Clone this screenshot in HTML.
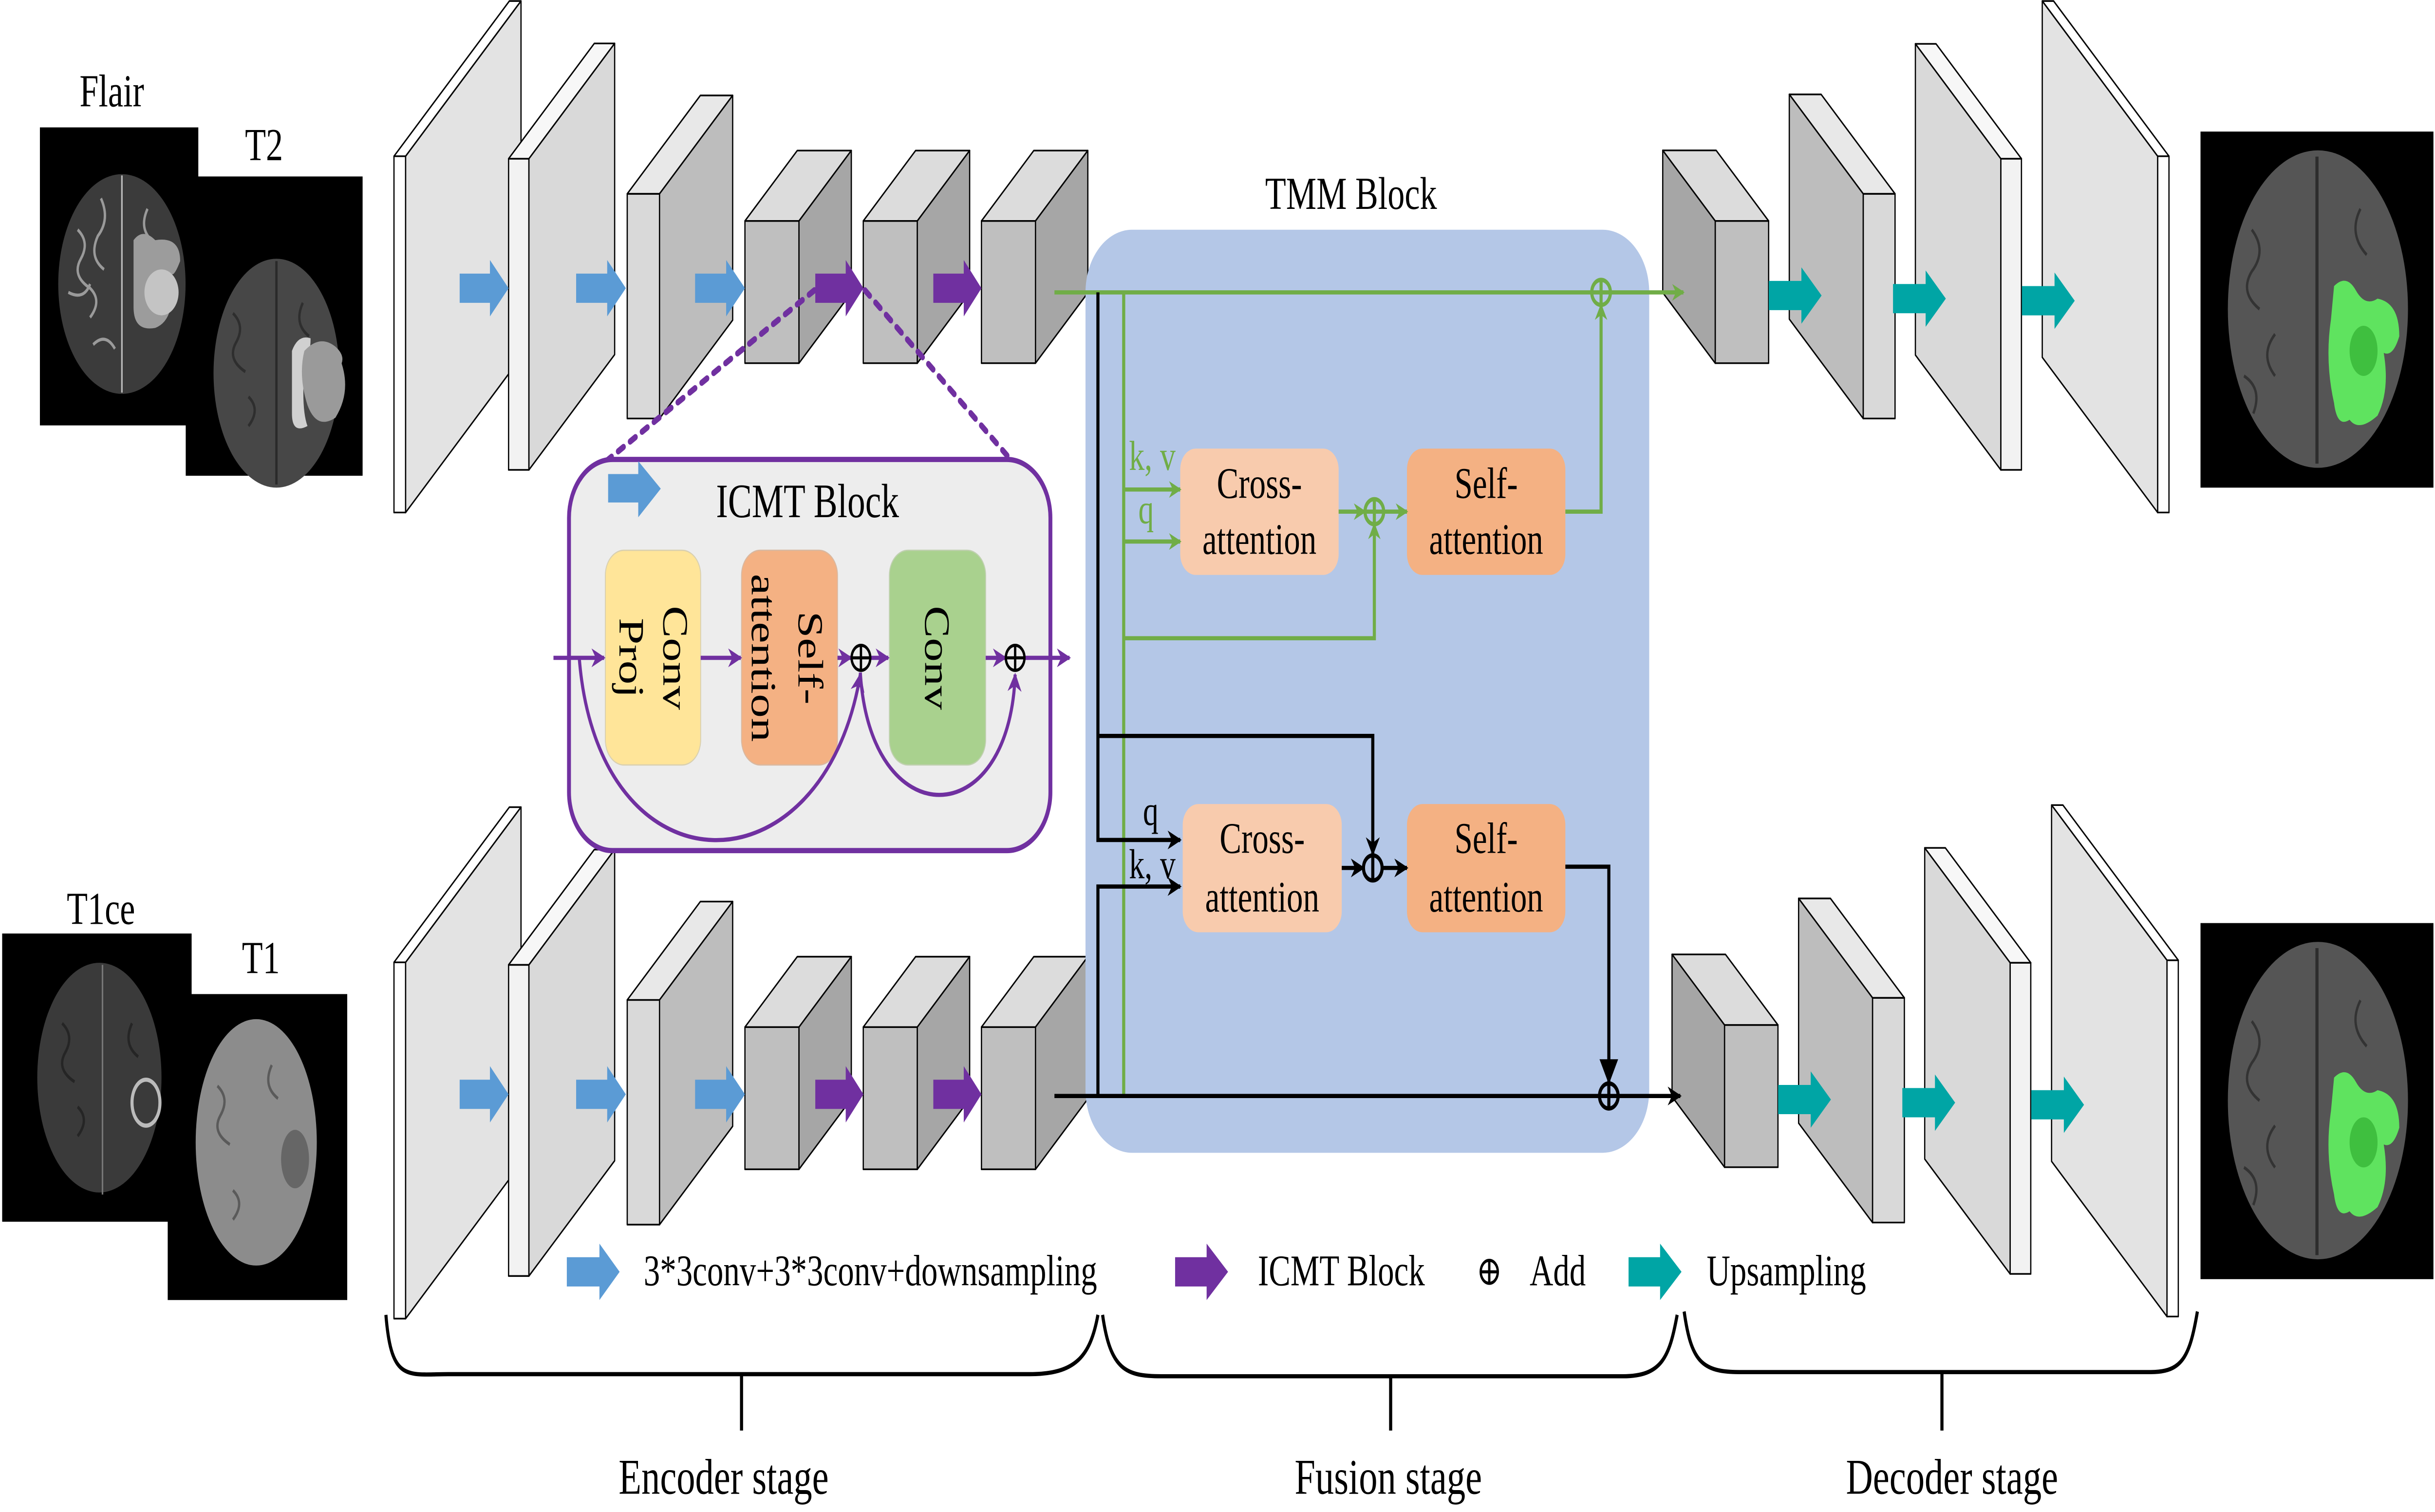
<!DOCTYPE html>
<html><head><meta charset="utf-8"><style>
html,body{margin:0;padding:0;background:#fff;width:100vw;height:100vh;overflow:hidden;}
svg{display:block;position:absolute;left:0;top:0;width:100vw;height:100vh;}
</style></head><body>
<svg viewBox="0 0 1568 724" preserveAspectRatio="none" xmlns="http://www.w3.org/2000/svg" font-family="'Liberation Serif','DejaVu Serif',serif">
<defs>
<marker id="mg" viewBox="0 0 10 10" refX="9" refY="5" markerWidth="4" markerHeight="4" orient="auto" markerUnits="strokeWidth"><path d="M0,0 L10,5 L0,10 L3,5 z" fill="#70ad47"/></marker>
<marker id="mk" viewBox="0 0 10 10" refX="9" refY="5" markerWidth="4.5" markerHeight="4.5" orient="auto" markerUnits="strokeWidth"><path d="M0,0 L10,5 L0,10 L3,5 z" fill="#000"/></marker>
<marker id="mkb" viewBox="0 0 10 10" refX="9" refY="5" markerWidth="6" markerHeight="6" orient="auto" markerUnits="strokeWidth"><path d="M0,0 L10,5 L0,10 z" fill="#000"/></marker>
<marker id="mp" viewBox="0 0 10 10" refX="9" refY="5" markerWidth="4.5" markerHeight="4.5" orient="auto" markerUnits="strokeWidth"><path d="M0,0 L10,5 L0,10 L3,5 z" fill="#7030a0"/></marker>

<g id="enc" stroke="#000" stroke-width="0.8" stroke-linejoin="round">
 <rect x="253.7" y="74.8" width="7.5" height="170.6" fill="#fff"/>
 <polygon points="253.7,74.8 328,0.5 335.5,0.5 261.2,74.8" fill="#fff"/>
 <polygon points="261.2,74.8 335.5,0.5 335.5,171.1 261.2,245.4" fill="#e3e3e3"/>
 <rect x="327.5" y="76" width="13.1" height="149" fill="#f2f2f2"/>
 <polygon points="327.5,76 382.7,20.8 395.8,20.8 340.6,76" fill="#f7f7f7"/>
 <polygon points="340.6,76 395.8,20.8 395.8,169.8 340.6,225" fill="#d9d9d9"/>
 <rect x="403.9" y="92.8" width="20.8" height="107.6" fill="#d9d9d9"/>
 <polygon points="403.9,92.8 451,45.7 471.8,45.7 424.7,92.8" fill="#e8e8e8"/>
 <polygon points="424.7,92.8 471.8,45.7 471.8,153.3 424.7,200.4" fill="#bdbdbd"/>
 <rect x="479.7" y="105.8" width="34.8" height="68.1" fill="#bfbfbf"/>
 <polygon points="479.7,105.8 513.4,72.1 548.2,72.1 514.5,105.8" fill="#dcdcdc"/>
 <polygon points="514.5,105.8 548.2,72.1 548.2,140.2 514.5,173.9" fill="#a6a6a6"/>
 <rect x="555.9" y="105.8" width="34.8" height="68.1" fill="#bfbfbf"/>
 <polygon points="555.9,105.8 589.6,72.1 624.4,72.1 590.7,105.8" fill="#dcdcdc"/>
 <polygon points="590.7,105.8 624.4,72.1 624.4,140.2 590.7,173.9" fill="#a6a6a6"/>
 <rect x="632" y="105.8" width="34.8" height="68.1" fill="#bfbfbf"/>
 <polygon points="632,105.8 665.7,72.1 700.5,72.1 666.8,105.8" fill="#dcdcdc"/>
 <polygon points="666.8,105.8 700.5,72.1 700.5,140.2 666.8,173.9" fill="#a6a6a6"/>
 <g stroke="none">
  <polygon points="296,131 315.5,131 315.5,124.5 327.5,138 315.5,151.5 315.5,145 296,145" fill="#5b9bd5"/>
  <polygon points="371,131 391,131 391,124.5 403,138 391,151.5 391,145 371,145" fill="#5b9bd5"/>
  <polygon points="447.6,131 467.6,131 467.6,124.5 479.7,138 467.6,151.5 467.6,145 447.6,145" fill="#5b9bd5"/>
  <polygon points="525,131 544.6,131 544.6,124.5 556,138 544.6,151.5 544.6,145 525,145" fill="#7030a0"/>
  <polygon points="601,131 620.6,131 620.6,124.5 632,138 620.6,151.5 620.6,145 601,145" fill="#7030a0"/>
 </g>
</g>

<g id="dec" stroke="#000" stroke-width="0.8" stroke-linejoin="round">
 <rect x="1104.5" y="105.8" width="34.4" height="68.1" fill="#bfbfbf"/>
 <polygon points="1104.5,105.8 1070.7,72 1105.1,72 1138.9,105.8" fill="#dcdcdc"/>
 <polygon points="1104.5,105.8 1070.7,72 1070.7,140.1 1104.5,173.9" fill="#a6a6a6"/>
 <rect x="1199.8" y="92.8" width="20.5" height="107.6" fill="#d9d9d9"/>
 <polygon points="1199.8,92.8 1152.2,45.2 1172.7,45.2 1220.3,92.8" fill="#e8e8e8"/>
 <polygon points="1199.8,92.8 1152.2,45.2 1152.2,152.8 1199.8,200.4" fill="#bdbdbd"/>
 <rect x="1288.4" y="76" width="13.3" height="149" fill="#f2f2f2"/>
 <polygon points="1288.4,76 1233.4,21 1246.7,21 1301.7,76" fill="#f7f7f7"/>
 <polygon points="1288.4,76 1233.4,21 1233.4,170 1288.4,225" fill="#d9d9d9"/>
 <rect x="1389.4" y="74.8" width="7.3" height="170.6" fill="#fff"/>
 <polygon points="1389.4,74.8 1315.1,0.5 1322.4,0.5 1396.7,74.8" fill="#fff"/>
 <polygon points="1389.4,74.8 1315.1,0.5 1315.1,171.1 1389.4,245.4" fill="#e3e3e3"/>
 <g stroke="none" fill="#00a5a5">
  <polygon points="1139,134.5 1160,134.5 1160,128 1173,141.5 1160,155 1160,148.5 1139,148.5"/>
  <polygon points="1219,136 1240,136 1240,129.5 1253,143 1240,156.5 1240,150 1219,150"/>
  <polygon points="1302,137 1323,137 1323,130.5 1336,144 1323,157.5 1323,151 1302,151"/>
 </g>
</g>

<g id="outimg">
 <rect x="1417" y="63" width="150" height="170.5" fill="#000"/>
 <ellipse cx="1492.6" cy="148" rx="58" ry="76" fill="#555"/>
 <path d="M1492,75 L1492,222" stroke="#2c2c2c" stroke-width="2"/>
 <path d="M1450,110 q10,10 0,20 q-8,10 5,18 M1465,160 q-10,10 0,20 M1520,100 q-8,12 4,22 M1445,180 q12,6 6,18" stroke="#333" stroke-width="1.5" fill="none"/>
 <path d="M1503,137 q8,-6 14,2 q6,8 14,4 q14,2 14,18 q-4,10 -10,8 q4,18 -4,30 q-12,8 -18,2 q-8,4 -10,-8 q-6,-20 -2,-40 z" fill="#5fe35f"/>
 <ellipse cx="1522" cy="168" rx="9" ry="12" fill="#3fbf3f"/>
</g>
</defs>

<rect x="0" y="0" width="1568" height="724" fill="#fff"/>
<!-- input images -->
<text x="72" y="50.9" font-size="22" text-anchor="middle">Flair</text>
<rect x="25.7" y="61" width="102" height="142.7" fill="#000"/>
<ellipse cx="78.5" cy="136" rx="41" ry="52.6" fill="#3b3b3b"/>
<path d="M78.5,84 L78.5,188" stroke="#bbb" stroke-width="1"/>
<path d="M50,110 q8,6 2,14 q-6,8 6,14 q8,6 0,14 M65,95 q6,10 -2,18 q-6,10 4,16 M95,100 q-6,10 4,16 M44,140 q10,4 14,-4 M60,165 q8,-6 14,2" stroke="#9a9a9a" stroke-width="1.5" fill="none"/>
<path d="M86,115 q6,-6 14,0 q16,-2 16,10 q-4,8 -6,6 q4,22 -10,26 q-14,2 -14,-10 z" fill="#9c9c9c"/>
<circle cx="104" cy="140" r="11" fill="#c4c4c4"/>
<text x="170" y="76.7" font-size="22" text-anchor="middle">T2</text>
<rect x="119.6" y="84.5" width="113.9" height="143.3" fill="#000"/>
<ellipse cx="178" cy="178.7" rx="40.5" ry="54.8" fill="#474747"/>
<path d="M178,125 L178,232" stroke="#2a2a2a" stroke-width="1.5"/>
<path d="M150,150 q8,6 2,14 q-6,8 6,14 M160,190 q8,6 0,14 M195,145 q-6,10 4,16" stroke="#2e2e2e" stroke-width="1.5" fill="none"/>
<path d="M188,168 q4,-8 12,-6 q0,8 -4,14 q-2,20 2,28 q-10,4 -10,-6 z" fill="#d0d0d0"/>
<path d="M196,168 q10,-8 20,-2 q6,4 4,8 q6,14 -4,26 q-12,6 -18,-6 q-6,-14 -2,-26 z" fill="#9a9a9a"/>

<text x="65" y="442.5" font-size="22" text-anchor="middle">T1ce</text>
<rect x="1.4" y="447" width="122" height="138" fill="#000"/>
<ellipse cx="64" cy="516" rx="40" ry="55" fill="#3a3a3a"/>
<path d="M66,462 L66,572" stroke="#777" stroke-width="1"/>
<path d="M40,490 q8,6 2,14 q-6,8 6,14 M50,530 q8,6 0,14 M85,490 q-6,10 4,16" stroke="#252525" stroke-width="1.5" fill="none"/>
<ellipse cx="94" cy="528" rx="9" ry="11" fill="none" stroke="#bbb" stroke-width="2"/>
<text x="168" y="466" font-size="22" text-anchor="middle">T1</text>
<rect x="108" y="476" width="115.6" height="146.5" fill="#000"/>
<ellipse cx="165" cy="547" rx="39" ry="59" fill="#8c8c8c"/>
<path d="M140,520 q8,6 2,14 q-6,8 6,14 M150,570 q8,6 0,14 M175,510 q-6,10 4,16" stroke="#5a5a5a" stroke-width="1.5" fill="none"/>
<ellipse cx="190" cy="555" rx="9" ry="14" fill="#666"/>

<use href="#enc"/>
<use href="#enc" y="386"/>

<text x="870" y="100" font-size="22" text-anchor="middle">TMM Block</text>
<rect x="699" y="110" width="363" height="442" rx="30" fill="#b4c7e7"/>

<use href="#dec"/>
<use href="#dec" x="6" y="385"/>
<use href="#outimg"/>
<use href="#outimg" y="379"/>

<line x1="524.4" y1="139" x2="378.6" y2="228" stroke="#7030a0" stroke-width="3" stroke-dasharray="4 5" stroke-linecap="round"/>
<line x1="557" y1="139" x2="664" y2="231.5" stroke="#7030a0" stroke-width="3" stroke-dasharray="4 5" stroke-linecap="round"/>
<rect x="366.4" y="220" width="310" height="187.3" rx="28" fill="#ededed" stroke="#7030a0" stroke-width="2.5"/>
<polygon points="391.6,227 411,227 411,220.8 425.5,234 411,247.7 411,240.6 391.6,240.6" fill="#5b9bd5"/>
<text x="520" y="247.6" font-size="23" text-anchor="middle">ICMT Block</text>
<rect x="389.8" y="263.5" width="61.4" height="102.8" rx="12" fill="#ffe599" stroke="#d9d0b0" stroke-width="0.6"/>
<rect x="477.5" y="263.5" width="61.8" height="102.8" rx="12" fill="#f4b183" stroke="#d9b8a0" stroke-width="0.6"/>
<rect x="572.7" y="263.5" width="62" height="102.8" rx="12" fill="#a9d18e" stroke="#c0d0b0" stroke-width="0.6"/>
<text transform="translate(420.5,315) rotate(90)" font-size="23" text-anchor="middle"><tspan x="0" y="-6.6">Conv</tspan><tspan x="0" y="21.6">Proj</tspan></text>
<text transform="translate(508.4,315) rotate(90)" font-size="23" text-anchor="middle"><tspan x="0" y="-5.7">Self-</tspan><tspan x="0" y="24.4">attention</tspan></text>
<text transform="translate(603.7,315) rotate(90)" font-size="23" text-anchor="middle"><tspan x="0" y="8">Conv</tspan></text>
<g stroke="#7030a0" stroke-width="2" fill="none">
 <line x1="356.4" y1="315" x2="389" y2="315" marker-end="url(#mp)"/>
 <line x1="451.2" y1="315" x2="477" y2="315" marker-end="url(#mp)"/>
 <line x1="539.3" y1="315" x2="548" y2="315" marker-end="url(#mp)"/>
 <line x1="560.5" y1="315" x2="572" y2="315" marker-end="url(#mp)"/>
 <line x1="634.7" y1="315" x2="647.5" y2="315" marker-end="url(#mp)"/>
 <line x1="660" y1="315" x2="688.7" y2="315" marker-end="url(#mp)"/>
 <path d="M373,315 C385,430 530,430 554,323" marker-end="url(#mp)"/>
 <path d="M554,322 C560,400 650,400 653.7,323" marker-end="url(#mp)"/>
</g>
<g stroke="#000" stroke-width="1.5" fill="none">
 <circle cx="554.4" cy="315" r="6"/><line x1="548.4" y1="315" x2="560.4" y2="315"/><line x1="554.4" y1="309" x2="554.4" y2="321"/>
 <circle cx="653.7" cy="315" r="6"/><line x1="647.7" y1="315" x2="659.7" y2="315"/><line x1="653.7" y1="309" x2="653.7" y2="321"/>
</g>

<rect x="760" y="214.8" width="102" height="60.5" rx="10" fill="#f8cbad"/>
<rect x="906" y="214.8" width="102" height="60.5" rx="10" fill="#f4b183"/>
<rect x="761.6" y="385" width="102.4" height="61.4" rx="10" fill="#f8cbad"/>
<rect x="906" y="385" width="102" height="61.4" rx="10" fill="#f4b183"/>
<text x="811" y="238.4" font-size="21" text-anchor="middle">Cross-</text>
<text x="811" y="265.2" font-size="21" text-anchor="middle">attention</text>
<text x="957" y="238.4" font-size="21" text-anchor="middle">Self-</text>
<text x="957" y="265.2" font-size="21" text-anchor="middle">attention</text>
<text x="812.8" y="408.4" font-size="21" text-anchor="middle">Cross-</text>
<text x="812.8" y="436.5" font-size="21" text-anchor="middle">attention</text>
<text x="957" y="408.4" font-size="21" text-anchor="middle">Self-</text>
<text x="957" y="436.5" font-size="21" text-anchor="middle">attention</text>

<g stroke="#70ad47" stroke-width="2" fill="none">
 <line x1="679" y1="140" x2="1084" y2="140" marker-end="url(#mg)"/>
 <line x1="723.6" y1="140" x2="723.6" y2="524.8"/>
 <polyline points="723.6,234.4 760,234.4" marker-end="url(#mg)"/>
 <polyline points="723.6,259.3 760,259.3" marker-end="url(#mg)"/>
 <line x1="862" y1="245" x2="879" y2="245" marker-end="url(#mg)"/>
 <line x1="891" y1="245" x2="906" y2="245" marker-end="url(#mg)"/>
 <polyline points="723.6,305.6 885,305.6 885,251" marker-end="url(#mg)"/>
 <polyline points="1008,245 1031,245 1031,146" marker-end="url(#mg)"/>
 <circle cx="885" cy="245" r="6"/><line x1="879" y1="245" x2="891" y2="245"/><line x1="885" y1="239" x2="885" y2="251"/>
 <circle cx="1031" cy="140" r="6"/><line x1="1031" y1="134" x2="1031" y2="146"/>
</g>
<text x="727" y="225" font-size="20" fill="#70ad47">k, v</text>
<text x="733" y="250.5" font-size="20" fill="#70ad47">q</text>

<g stroke="#000" stroke-width="2" fill="none">
 <polyline points="707,140 707,402.2 760,402.2" marker-end="url(#mk)"/>
 <polyline points="707,352.4 884,352.4 884,409" marker-end="url(#mk)"/>
 <polyline points="707,524.8 707,424.5 760,424.5" marker-end="url(#mk)"/>
 <line x1="864" y1="415.6" x2="878" y2="415.6" marker-end="url(#mk)"/>
 <line x1="890" y1="415.6" x2="906" y2="415.6" marker-end="url(#mk)"/>
 <polyline points="1008,415 1036,415 1036,518" marker-end="url(#mkb)"/>
 <line x1="679" y1="524.8" x2="1082" y2="524.8" marker-end="url(#mk)"/>
 <circle cx="884" cy="415.6" r="6"/><line x1="884" y1="409.6" x2="884" y2="421.6"/>
 <circle cx="1036" cy="524.8" r="6"/><line x1="1036" y1="518.8" x2="1036" y2="530.8"/>
</g>
<text x="736" y="395" font-size="20">q</text>
<text x="727" y="420.5" font-size="20">k, v</text>

<polygon points="365,602 386,602 386,595.5 399,609 386,622.5 386,616 365,616" fill="#5b9bd5"/>
<text x="414.5" y="615.5" font-size="21">3*3conv+3*3conv+downsampling</text>
<polygon points="756.7,602 777,602 777,595.5 790.8,609 777,622.5 777,616 756.7,616" fill="#7030a0"/>
<text x="810" y="615.5" font-size="21">ICMT Block</text>
<g stroke="#000" stroke-width="1.5" fill="none">
 <circle cx="959" cy="609" r="5.5"/><line x1="953.5" y1="609" x2="964.5" y2="609"/><line x1="959" y1="603.5" x2="959" y2="614.5"/>
</g>
<text x="985" y="615.5" font-size="21">Add</text>
<polygon points="1048.7,602 1069,602 1069,595.5 1082.8,609 1069,622.5 1069,616 1048.7,616" fill="#00a5a5"/>
<text x="1099" y="615.5" font-size="21">Upsampling</text>

<g stroke="#000" stroke-width="2" fill="none">
 <path d="M248.5,629.6 C252,662 262,658 288.5,658 L663,658 C692,658 702,650 707,629.6"/>
 <line x1="477.5" y1="658" x2="477.5" y2="685"/>
 <path d="M710,629.6 C715,656 725,659 748,659 L1045,659 C1070,659 1075,650 1080,629.6"/>
 <line x1="895.5" y1="659" x2="895.5" y2="685"/>
 <path d="M1084.5,628 C1089,652 1096,657 1120,657 L1385,657 C1405,657 1410,650 1415,628"/>
 <line x1="1250.5" y1="657" x2="1250.5" y2="685"/>
</g>
<text x="466" y="715.3" font-size="24" text-anchor="middle">Encoder stage</text>
<text x="894" y="715.3" font-size="24" text-anchor="middle">Fusion stage</text>
<text x="1257" y="715.3" font-size="24" text-anchor="middle">Decoder stage</text>
</svg>
</body></html>
